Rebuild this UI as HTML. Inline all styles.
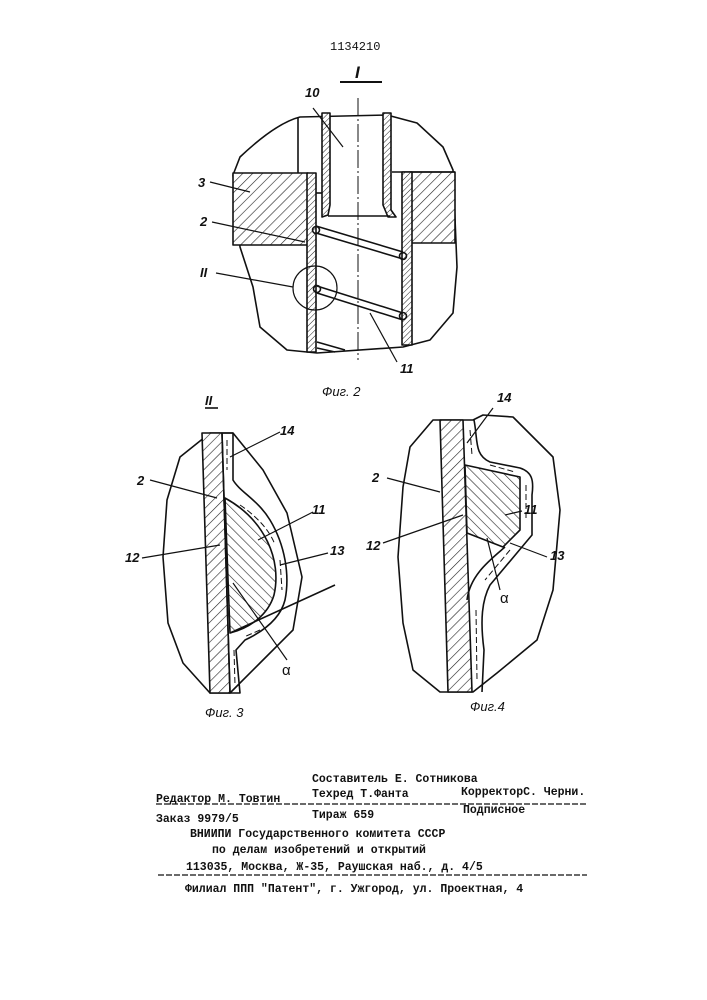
<!DOCTYPE html>
<html><head><meta charset="utf-8"><style>
html,body{margin:0;padding:0;background:#fff}
svg{display:block}
text{font-family:"Liberation Sans","DejaVu Sans",sans-serif;fill:#111}
.m{font-family:"Liberation Mono","DejaVu Sans Mono",monospace;font-size:11.5px;font-weight:bold}
.l{font-size:13px;font-weight:bold;font-style:italic}
</style></head><body>
<svg width="707" height="1000" viewBox="0 0 707 1000" xmlns="http://www.w3.org/2000/svg">
<defs>
<pattern id="h" width="7" height="7" patternUnits="userSpaceOnUse" patternTransform="rotate(45)"><rect width="7" height="7" fill="#fff"/><line x1="0" y1="0" x2="0" y2="7" stroke="#222" stroke-width="1.2"/></pattern>
<pattern id="h2" width="7" height="7" patternUnits="userSpaceOnUse" patternTransform="rotate(-45)"><rect width="7" height="7" fill="#fff"/><line x1="0" y1="0" x2="0" y2="7" stroke="#222" stroke-width="1.2"/></pattern>
<pattern id="hs" width="4" height="4" patternUnits="userSpaceOnUse" patternTransform="rotate(45)"><rect width="4" height="4" fill="#fff"/><line x1="0" y1="0" x2="0" y2="4" stroke="#222" stroke-width="1"/></pattern>
</defs>
<g stroke="#111" stroke-width="1.6" fill="none" stroke-linejoin="round">
<text x="330" y="50" style="font-family:'Liberation Mono',monospace;font-size:12px" stroke="none">1134210</text>
<text x="355" y="78" class="l" style="font-size:17px" stroke="none">I</text>
<line x1="340" y1="82" x2="382" y2="82" stroke-width="2"/>
<path d="M300,117 C280,122 258,140 240,157 L233,175 L240,247 L253,287 L260,327 L287,350 L317,353 L403,347 L430,340 L453,313 L457,267 L453,170 L443,147 L417,123 L387,115 Z"/>
<rect x="233" y="173" width="75" height="72" fill="url(#h)"/>
<rect x="410" y="172" width="45" height="71" fill="url(#h)"/>
<line x1="298" y1="117" x2="298" y2="173"/>
<line x1="392" y1="172" x2="455" y2="172"/>
<rect x="307" y="173" width="9" height="179" fill="url(#hs)"/>
<rect x="402" y="172" width="10" height="173" fill="url(#hs)"/>
<path d="M322,113 L330,113 L330,205 L328,215 L322,217 Z" fill="url(#hs)"/>
<path d="M383,113 L391,113 L391,210 L396,217 L388,217 L383,205 Z" fill="url(#hs)"/>
<line x1="328" y1="216" x2="390" y2="216"/>
<line x1="316" y1="193" x2="322" y2="193"/>
<line x1="358" y1="98" x2="358" y2="360" stroke-width="1" stroke-dasharray="18,3,2,3"/>
<path d="M316,226 L403,252 M316,233 L403,259" />
<circle cx="316" cy="230" r="3.5"/><circle cx="403" cy="256" r="3.5"/>
<path d="M317,286 L403,313 M317,293 L403,320"/>
<circle cx="317" cy="289" r="3.5"/><circle cx="403" cy="316" r="3.5"/>
<path d="M317,342 L345,350 M317,348 L335,352"/>
<circle cx="315" cy="288" r="22" stroke-width="1.2"/>
<text x="305" y="97" class="l" stroke="none">10</text>
<line x1="313" y1="108" x2="343" y2="147" stroke-width="1.2"/>
<text x="198" y="187" class="l" stroke="none">3</text>
<line x1="210" y1="182" x2="250" y2="192" stroke-width="1.2"/>
<text x="200" y="226" class="l" stroke="none">2</text>
<line x1="212" y1="222" x2="305" y2="242" stroke-width="1.2"/>
<text x="200" y="277" class="l" stroke="none">II</text>
<line x1="216" y1="273" x2="293" y2="287" stroke-width="1.2"/>
<text x="400" y="373" class="l" stroke="none">11</text>
<line x1="397" y1="362" x2="370" y2="313" stroke-width="1.2"/>
<text x="322" y="396" class="l" style="font-weight:normal" stroke="none">Фиг. 2</text>
<text x="205" y="405" class="l" stroke="none">II</text>
<line x1="205" y1="408" x2="218" y2="408"/>
<path d="M210,433 L180,457 L167,500 L163,557 L168,623 L183,663 L210,693 L230,693 L260,663 L293,630 L302,577 L287,513 L263,470 L233,433 Z"/>
<path d="M202,433 L222,433 L230,693 L210,693 Z" fill="url(#h)"/>
<path d="M222,433 L233,433 L233,480 C240,492 258,500 270,520 C285,545 290,575 285,600 C280,620 262,632 245,640 L236,650 L240,693 L230,693 Z" fill="none"/>
<path d="M225,498 C265,520 282,560 274,595 C268,615 250,628 230,633 Z" fill="url(#h2)"/>
<path d="M227,440 L227,470 M240,505 C255,515 270,530 275,545 M280,560 L282,590 M260,630 L244,637 M234,650 L235,685" stroke-dasharray="6,3" stroke-width="1"/>
<line x1="230" y1="633" x2="335" y2="585"/>
<text x="280" y="435" class="l" stroke="none">14</text>
<line x1="230" y1="457" x2="280" y2="432" stroke-width="1.2"/>
<text x="137" y="485" class="l" stroke="none">2</text>
<line x1="150" y1="480" x2="217" y2="498" stroke-width="1.2"/>
<text x="312" y="514" class="l" stroke="none">11</text>
<line x1="258" y1="540" x2="313" y2="512" stroke-width="1.2"/>
<text x="125" y="562" class="l" stroke="none">12</text>
<line x1="142" y1="558" x2="220" y2="545" stroke-width="1.2"/>
<text x="330" y="555" class="l" stroke="none">13</text>
<line x1="280" y1="565" x2="328" y2="553" stroke-width="1.2"/>
<text x="282" y="675" style="font-size:15px" stroke="none">α</text>
<line x1="287" y1="660" x2="233" y2="583" stroke-width="1.2"/>
<text x="205" y="717" class="l" style="font-weight:normal" stroke="none">Фиг. 3</text>
<path d="M433,420 L410,447 L403,487 L398,557 L403,623 L413,670 L440,692 L473,692 L497,673 L537,640 L553,590 L560,510 L553,457 L513,417 L483,415 L473,420 Z"/>
<path d="M440,420 L463,420 L472,692 L448,692 Z" fill="url(#h)"/>
<path d="M465,465 L520,477 L520,530 L503,547 L467,533 Z" fill="url(#h2)"/>
<path d="M474,420 C478,440 474,455 490,462 L520,468 C532,472 534,480 532,495 L532,535 L490,585 C482,600 480,620 484,650 L482,692" />
<path d="M467,600 C470,575 490,560 505,547" />
<path d="M470,430 L472,455 M490,465 L515,472 M526,485 L526,520 M510,550 L485,580 M476,610 L477,680" stroke-dasharray="6,3" stroke-width="1"/>
<text x="497" y="402" class="l" stroke="none">14</text>
<line x1="493" y1="408" x2="467" y2="443" stroke-width="1.2"/>
<text x="372" y="482" class="l" stroke="none">2</text>
<line x1="387" y1="478" x2="440" y2="492" stroke-width="1.2"/>
<text x="524" y="514" class="l" stroke="none">11</text>
<line x1="505" y1="515" x2="522" y2="511" stroke-width="1.2"/>
<text x="366" y="550" class="l" stroke="none">12</text>
<line x1="383" y1="543" x2="463" y2="515" stroke-width="1.2"/>
<text x="550" y="560" class="l" stroke="none">13</text>
<line x1="510" y1="543" x2="547" y2="557" stroke-width="1.2"/>
<text x="500" y="603" style="font-size:15px" stroke="none">α</text>
<line x1="500" y1="590" x2="487" y2="538" stroke-width="1.2"/>
<text x="470" y="711" class="l" style="font-weight:normal" stroke="none">Фиг.4</text>
</g>
<g>
<text x="312" y="782" class="m">Составитель Е. Сотникова</text>
<text x="156" y="802" class="m">Редактор М. Товтин</text>
<text x="312" y="797" class="m">Техред Т.Фанта</text>
<text x="461" y="795" class="m">КорректорС. Черни.</text>
<text x="156" y="822" class="m">Заказ 9979/5</text>
<text x="312" y="818" class="m">Тираж 659</text>
<text x="463" y="813" class="m">Подписное</text>
<text x="190" y="837" class="m">ВНИИПИ Государственного комитета СССР</text>
<text x="212" y="853" class="m">по делам изобретений и открытий</text>
<text x="186" y="870" class="m">113035, Москва, Ж-35, Раушская наб., д. 4/5</text>
<text x="185" y="892" class="m">Филиал ППП "Патент", г. Ужгород, ул. Проектная, 4</text>
</g>
<line x1="156" y1="804" x2="588" y2="804" stroke="#111" stroke-width="1.3" stroke-dasharray="6,2"/>
<line x1="158" y1="875" x2="587" y2="875" stroke="#111" stroke-width="1.3" stroke-dasharray="6,2"/>
</svg>
</body></html>
